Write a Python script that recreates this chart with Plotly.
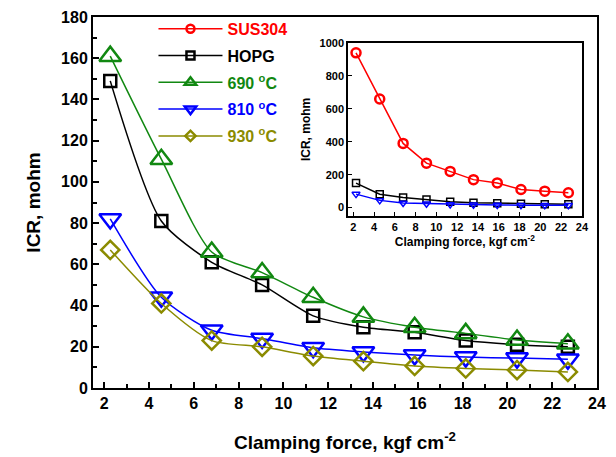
import plotly.graph_objects as go

force = [2.27, 4.55, 6.8, 9.05, 11.33, 13.57, 15.86, 18.14, 20.43, 22.7]
sus304 = [940, 660, 390, 270, 220, 170, 150, 110, 100, 90]
hopg = [149, 81, 61, 50, 35, 29.5, 27, 23, 21, 20]
t690 = [161, 111, 66, 56, 44, 34.5, 29.5, 26.5, 23.3, 21.5]
t810 = [82, 44, 28, 24, 19.5, 17.5, 16, 15, 14.5, 14]
t930 = [67, 41, 23, 20, 15.5, 13, 10.7, 9.5, 8.7, 7.8]

RED = "#ff0000"
BLACK = "#000000"
GREEN = "#118811"
BLUE = "#0000ff"
OLIVE = "#8b8b00"

FONT = "Arial, Liberation Sans, sans-serif"

fig = go.Figure()

# inset series
fig.add_trace(go.Scatter(
    x=force, y=sus304, xaxis="x2", yaxis="y2", mode="lines+markers", showlegend=False,
    line=dict(color=RED, width=1.5),
    marker=dict(symbol="circle-open", size=9, color=RED, line=dict(width=2.5, color=RED)),
))
fig.add_trace(go.Scatter(
    x=force, y=hopg, xaxis="x2", yaxis="y2", mode="lines+markers", showlegend=False,
    line=dict(color=BLACK, width=1.5),
    marker=dict(symbol="square-open", size=7, color=BLACK, line=dict(width=1.5, color=BLACK)),
))
fig.add_trace(go.Scatter(
    x=force, y=t810, xaxis="x2", yaxis="y2", mode="lines+markers", showlegend=False,
    line=dict(color=BLUE, width=1.5),
    marker=dict(symbol="triangle-down-open", size=7, color=BLUE, line=dict(width=1.5, color=BLUE)),
))

main = [
    ("HOPG", hopg, BLACK, "square-open", 12),
    ("690 <sup>o</sup>C", t690, GREEN, "triangle-up-open", 19),
    ("810 <sup>o</sup>C", t810, BLUE, "triangle-down-open", 19),
    ("930 <sup>o</sup>C", t930, OLIVE, "diamond-open", 14),
]
for name, ys, col, sym, sz in main:
    fig.add_trace(go.Scatter(
        x=force, y=ys, mode="lines+markers", showlegend=False,
        line=dict(color=col, width=1.5, shape="spline", smoothing=0.7),
        marker=dict(symbol=sym, size=sz, color=col, line=dict(width=2.5, color=col)),
    ))

# legend entries (smaller symbols, as in the reference legend)
legend_items = [
    ("SUS304", RED, "circle-open", 8, "a"),
    ("HOPG", BLACK, "square-open", 8, "b"),
    ("690 <sup>o</sup>C", GREEN, "triangle-up-open", 10, "c"),
    ("810 <sup>o</sup>C", BLUE, "triangle-down-open", 10, "d"),
    ("930 <sup>o</sup>C", OLIVE, "diamond-open", 8, "e"),
]
for name, col, sym, sz, grp in legend_items:
    fig.add_trace(go.Scatter(
        x=[None], y=[None], mode="lines+markers",
        name=f"<span style='color:{col}'>{name}</span>", legendgroup=grp,
        line=dict(color=col, width=1.5),
        marker=dict(symbol=sym, size=sz, color=col, line=dict(width=2.5, color=col)),
    ))

axis_common = dict(
    showgrid=False, zeroline=False, showline=True, linecolor="black", mirror=True,
    ticks="inside", tickcolor="black",
)

fig.update_layout(
    width=616, height=457,
    margin=dict(l=93, r=19, t=17, b=69),
    paper_bgcolor="white", plot_bgcolor="white",
    font=dict(family=FONT, color="black"),
    xaxis=dict(
        **axis_common, range=[1.5, 24], tickvals=list(range(2, 25, 2)),
        linewidth=2, ticklen=6, tickwidth=1.5, automargin=False,
        minor=dict(dtick=1, ticks="inside", ticklen=4, tickcolor="black", tickwidth=1.5),
        tickfont=dict(size=16, weight="bold"),
        title=dict(text="Clamping force, kgf cm<sup>-2</sup>", font=dict(size=19, weight="bold"), standoff=24),
    ),
    yaxis=dict(
        **axis_common, range=[0, 180], tickvals=list(range(0, 181, 20)),
        linewidth=2, ticklen=6, tickwidth=1.5, automargin=False,
        minor=dict(dtick=10, ticks="inside", ticklen=4, tickcolor="black", tickwidth=1.5),
        tickfont=dict(size=16, weight="bold"),
        title=dict(text="ICR, mohm", font=dict(size=19, weight="bold")),
    ),
    xaxis2=dict(
        **axis_common, range=[1.5, 24], tickvals=list(range(2, 25, 2)),
        domain=[0.506, 0.970], anchor="y2", linewidth=1.5, ticklen=4, tickwidth=1,
        tickfont=dict(size=11, weight="bold"),
        title=dict(text="Clamping force, kgf cm<sup>-2</sup>", font=dict(size=12, weight="bold"), standoff=4),
    ),
    yaxis2=dict(
        **axis_common, range=[-50, 1000], tickvals=list(range(0, 1001, 200)),
        domain=[0.464, 0.930], anchor="x2", linewidth=1.5, ticklen=4, tickwidth=1,
        tickfont=dict(size=11, weight="bold"),
        title=dict(text="ICR, mohm", font=dict(size=12, weight="bold"), standoff=6),
    ),
    legend=dict(
        x=0.12, y=1.014, xanchor="left", yanchor="top",
        bgcolor="rgba(0,0,0,0)", font=dict(size=16, family=FONT, weight="bold"),
        traceorder="grouped", tracegroupgap=3, itemwidth=64,
    ),
)

fig.write_html("out.html")
